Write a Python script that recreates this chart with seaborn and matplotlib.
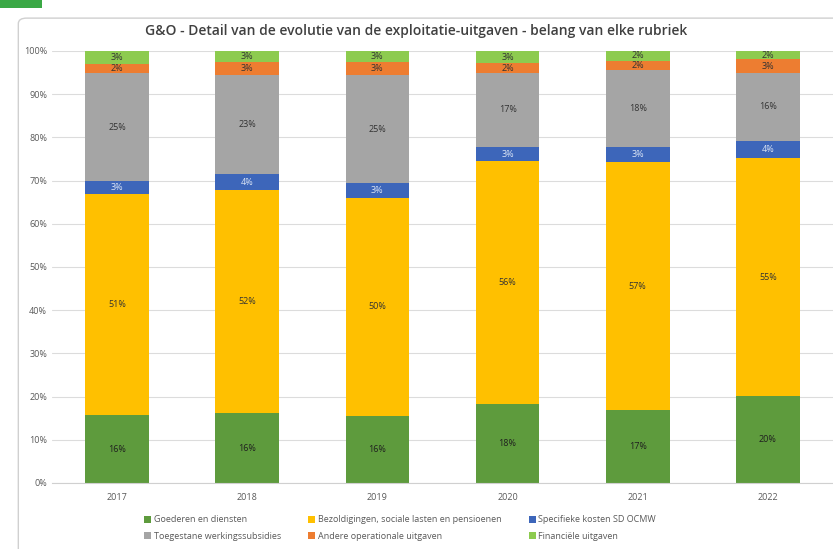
import numpy as np
import pandas as pd
import matplotlib.pyplot as plt
import seaborn as sns
from matplotlib.patches import FancyBboxPatch, Rectangle
from matplotlib.ticker import PercentFormatter

# ── Data (share in % per rubriek) ────────────────────────────
years = ["2017", "2018", "2019", "2020", "2021", "2022"]
goederen      = [15.7, 16.2, 15.6, 18.3, 16.9, 20.1]
bezoldiging   = [51.2, 51.6, 50.4, 56.2, 57.4, 55.1]
specifieke    = [3.0, 3.7, 3.4, 3.3, 3.4, 4.0]
werkingssub   = [25.0, 23.0, 25.0, 17.1, 17.8, 15.7]
andere        = [2.0, 2.9, 3.0, 2.3, 2.3, 3.2]
financiele    = [3.1, 2.6, 2.6, 2.8, 2.2, 1.9]

names = ["Goederen en diensten",
         "Bezoldigingen, sociale lasten en pensioenen",
         "Specifieke kosten SD OCMW",
         "Toegestane werkingssubsidies",
         "Andere operationale uitgaven",
         "Financiële uitgaven"]
series = [goederen, bezoldiging, specifieke, werkingssub, andere, financiele]
colors = ["#5E9B3D", "#FFC000", "#3D66BA", "#A5A5A5", "#ED7D31", "#8DCB4F"]
label_colors = ["#1f1f1f", "#333333", "#dde6f5", "#333333", "#333333", "#333333"]

sns.set_style("white")
plt.rcParams['font.family'] = ['Open Sans', 'DejaVu Sans']

fig = plt.figure(figsize=(8.33, 5.49), dpi=100)
# chart frame + green corner
frame = FancyBboxPatch((0.022, -0.02), 0.99, 0.987, boxstyle="round,pad=0,rounding_size=0.01",
                       transform=fig.transFigure, fc="white", ec="#d0d0d0", lw=1.0, zorder=-5)
fig.patches.append(frame)
fig.patches.append(Rectangle((0.0, 0.985), 0.05, 0.015, transform=fig.transFigure,
                             fc="#3aa845", ec="none", zorder=-4))

ax = fig.add_axes([52 / 833, 1 - 483 / 549, 781 / 833, 432 / 549])
ax.patch.set_alpha(0)

bottom = np.zeros(len(years))
handles = []
for name, vals, c, lc in zip(names, series, colors, label_colors):
    vals = np.array(vals)
    sns.barplot(x=years, y=vals, bottom=bottom, color=c, width=0.49,
                ax=ax, saturation=1, linewidth=0)
    cont = ax.containers[-1]
    ax.bar_label(cont, labels=[f"{v:.0f}%" for v in vals], label_type="center",
                 fontsize=6.5, color=lc)
    handles.append(cont)
    bottom += vals

if ax.get_legend() is not None:
    ax.get_legend().remove()

ax.set_ylim(0, 100)
ax.set_xlim(-0.5, 5.5)
ax.set_yticks(np.arange(0, 101, 10))
ax.yaxis.set_major_formatter(PercentFormatter(decimals=0))
ax.grid(axis="y", color="#dcdcdc", lw=0.8)
ax.set_axisbelow(True)
for s in ["top", "right", "left"]:
    ax.spines[s].set_visible(False)
ax.spines["bottom"].set_color("#d0d0d0")
ax.tick_params(axis="both", length=0, labelsize=6.5, labelcolor="#595959")
ax.tick_params(axis="x", pad=7)
ax.set_xlabel("")
ax.set_ylabel("")

fig.text(0.5, 1 - 31 / 549, "G&O - Detail van de evolutie van de exploitatie-uitgaven - belang van elke rubriek",
         ha="center", va="center", fontsize=10, color="#404040", fontweight="semibold")

order = [0, 3, 1, 4, 2, 5]
leg = fig.legend([handles[i] for i in order], [names[i] for i in order],
                 ncol=3, loc="center", bbox_to_anchor=(0.48, 1 - 528 / 549),
                 frameon=False, fontsize=6.5, handlelength=0.8, handleheight=0.8,
                 handletextpad=0.3, columnspacing=3.0, labelspacing=0.8)
for t in leg.get_texts():
    t.set_color("#595959")

plt.savefig("out.png", dpi=100)
